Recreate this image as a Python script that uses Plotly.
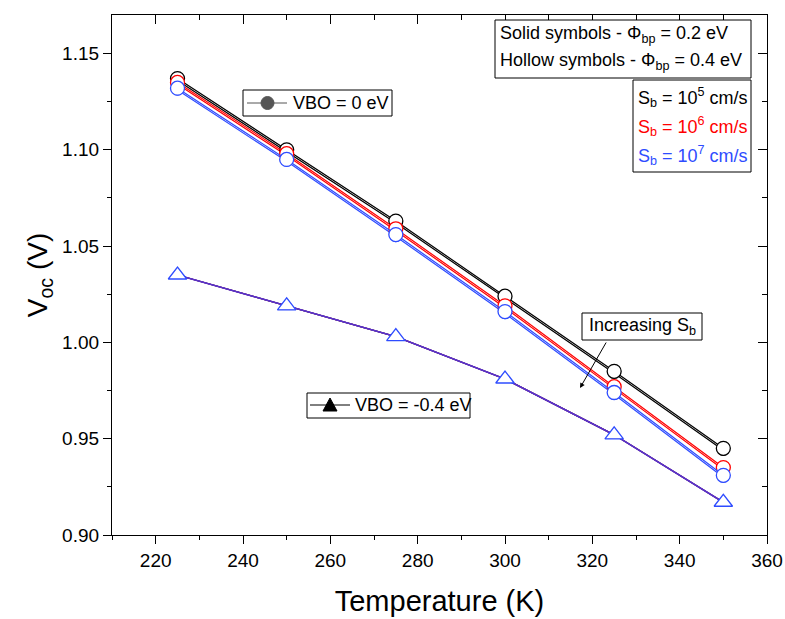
import plotly.graph_objects as go

temperature = [225, 250, 275, 300, 325, 350]

# VBO = 0 eV, hollow symbols (phi_bp = 0.4 eV)
voc_vbo0_h_sb5 = [1.137, 1.100, 1.063, 1.024, 0.985, 0.945]
voc_vbo0_h_sb6 = [1.135, 1.098, 1.059, 1.019, 0.977, 0.935]
voc_vbo0_h_sb7 = [1.132, 1.095, 1.056, 1.016, 0.974, 0.931]
# VBO = 0 eV, solid symbols (phi_bp = 0.2 eV)
voc_vbo0_s_sb5 = [1.136, 1.099, 1.062, 1.023, 0.984, 0.944]
voc_vbo0_s_sb6 = [1.134, 1.097, 1.058, 1.018, 0.976, 0.934]
voc_vbo0_s_sb7 = [1.131, 1.094, 1.055, 1.015, 0.973, 0.930]
# VBO = -0.4 eV (all S_b and phi_bp overlap)
voc_vbo04 = [1.035, 1.019, 1.003, 0.981, 0.952, 0.917]

BLACK = "#000000"
RED = "#ff0000"
BLUE = "#2e4cff"
FONT = "Arial, Liberation Sans, sans-serif"

fig = go.Figure()

def add(y, color, symbol, filled, size=14):
    fig.add_trace(go.Scatter(
        x=temperature, y=y, mode="lines+markers",
        line=dict(color=color, width=1.2),
        marker=dict(symbol=symbol, size=size,
                    color=color if filled else "white",
                    line=dict(color=color, width=1.3)),
        showlegend=False, hoverinfo="skip"))

# solid symbols first (mostly hidden)
add(voc_vbo0_s_sb5, BLACK, "circle", True, size=10)
add(voc_vbo0_s_sb6, RED, "circle", True, size=10)
add(voc_vbo0_s_sb7, BLUE, "circle", True, size=10)
add(voc_vbo04, BLACK, "triangle-up", True, size=12)
add(voc_vbo04, RED, "triangle-up", True, size=12)
add(voc_vbo04, BLUE, "triangle-up", True, size=12)
# hollow symbols
add(voc_vbo0_h_sb5, BLACK, "circle", False)
add(voc_vbo0_h_sb6, RED, "circle", False)
add(voc_vbo0_h_sb7, BLUE, "circle", False)
fig.add_trace(go.Scatter(
    x=temperature, y=voc_vbo04, mode="lines",
    line=dict(color="#5a32c8", width=1.5), showlegend=False, hoverinfo="skip"))
fig.add_trace(go.Scatter(
    x=temperature, y=voc_vbo04, mode="markers",
    marker=dict(symbol="triangle-up", size=16, color="white",
                line=dict(color=BLUE, width=1.3)),
    showlegend=False, hoverinfo="skip"))
# invisible trace for the mirrored top/right axes
fig.add_trace(go.Scatter(x=[temperature[0]], y=[voc_vbo04[0]], xaxis="x2", yaxis="y2",
                         mode="markers", marker=dict(opacity=0), showlegend=False,
                         hoverinfo="skip"))

W, H = 785, 619
L, R, T, B = 112, 767, 15, 535

def px(x):
    return (x - L) / (R - L)

def py(y):
    return (B - y) / (B - T)

shapes = []
annotations = []

def box(x0, y0, x1, y1):
    shapes.append(dict(type="rect", xref="paper", yref="paper",
                       x0=px(x0), x1=px(x1), y0=py(y1), y1=py(y0),
                       line=dict(color="black", width=1), fillcolor="white", layer="above"))

def text(x, y, s, color="black", size=18, xanchor="left"):
    annotations.append(dict(xref="paper", yref="paper", x=px(x), y=py(y), text=s,
                            showarrow=False, xanchor=xanchor, yanchor="middle",
                            font=dict(family=FONT, size=size, color=color)))

# VBO = 0 legend
box(243, 90, 392, 116)
shapes.append(dict(type="line", xref="paper", yref="paper", x0=px(247), x1=px(287),
                   y0=py(103), y1=py(103), line=dict(color="#555555", width=1), layer="above"))
shapes.append(dict(type="circle", xref="paper", yref="paper", x0=px(261), x1=px(274),
                   y0=py(109.5), y1=py(96.5), fillcolor="#555555",
                   line=dict(color="#555555", width=1), layer="above"))
text(291, 103, "VBO = 0 eV")

# VBO = -0.4 legend
box(307, 393, 470, 418)
shapes.append(dict(type="line", xref="paper", yref="paper", x0=px(310), x1=px(350),
                   y0=py(405), y1=py(405), line=dict(color="black", width=1), layer="above"))
tx = [px(323), px(337), px(330)]
ty = [py(411), py(411), py(398)]
shapes.append(dict(type="path", xref="paper", yref="paper",
                   path=f"M {tx[0]} {ty[0]} L {tx[1]} {ty[1]} L {tx[2]} {ty[2]} Z",
                   fillcolor="black", line=dict(color="black", width=1), layer="above"))
text(353, 405, "VBO = -0.4 eV")

# Phi legend
box(495, 20, 751, 78)
text(498, 35, "Solid symbols - Φ<sub>bp</sub> = 0.2 eV")
text(498, 61, "Hollow symbols - Φ<sub>bp</sub> = 0.4 eV")

# S_b legend
box(633, 80, 751, 172)
text(636, 97, "S<sub>b</sub> = 10<sup>5</sup> cm/s", BLACK)
text(636, 126, "S<sub>b</sub> = 10<sup>6</sup> cm/s", RED)
text(636, 155, "S<sub>b</sub> = 10<sup>7</sup> cm/s", BLUE)

# Increasing S_b
box(582, 313, 702, 340)
text(642, 326, "Increasing S<sub>b</sub>", xanchor="center")
annotations.append(dict(xref="paper", yref="paper", x=px(580), y=py(388), text="",
                        showarrow=True, arrowhead=2, arrowsize=1, arrowwidth=1,
                        arrowcolor="black", ax=27, ay=-47, axref="pixel", ayref="pixel"))

xr = [210, 360]
yr = [0.90, 1.17]
common_x = dict(range=xr, tickmode="linear", tick0=220, dtick=20, tickwidth=1,
                tickcolor="black", showgrid=False, zeroline=False, automargin=False,
                showline=True, linecolor="black", linewidth=1.3)
common_y = dict(range=yr, tickmode="linear", tick0=0.90, dtick=0.05, tickwidth=1,
                tickcolor="black", showgrid=False, zeroline=False, automargin=False,
                showline=True, linecolor="black", linewidth=1.3)

fig.update_layout(
    width=W, height=H,
    margin=dict(l=L, r=W - R, t=T, b=H - B, autoexpand=False),
    paper_bgcolor="white", plot_bgcolor="white",
    shapes=shapes, annotations=annotations,
    font=dict(family=FONT, color="black"),
    xaxis=dict(**common_x, ticks="outside", ticklen=8,
               minor=dict(ticks="outside", ticklen=4, dtick=10, tick0=210, tickcolor="black"),
               tickfont=dict(family=FONT, size=19),
               title=dict(text="Temperature (K)", font=dict(family=FONT, size=29), standoff=20)),
    yaxis=dict(**common_y, ticks="outside", ticklen=8, tickformat=".2f",
               minor=dict(ticks="outside", ticklen=4, dtick=0.025, tick0=0.9, tickcolor="black"),
               tickfont=dict(family=FONT, size=19),
               title=dict(text="V<sub>oc</sub> (V)", font=dict(family=FONT, size=28), standoff=6)),
    xaxis2=dict(**common_x, overlaying="x", side="top", anchor="y", ticks="inside", ticklen=9,
                showticklabels=False,
                minor=dict(ticks="inside", ticklen=5, dtick=10, tick0=210, tickcolor="black")),
    yaxis2=dict(**common_y, overlaying="y", side="right", anchor="x", ticks="inside", ticklen=9,
                showticklabels=False,
                minor=dict(ticks="inside", ticklen=5, dtick=0.025, tick0=0.9, tickcolor="black")),
)

fig.write_html("out.html")
